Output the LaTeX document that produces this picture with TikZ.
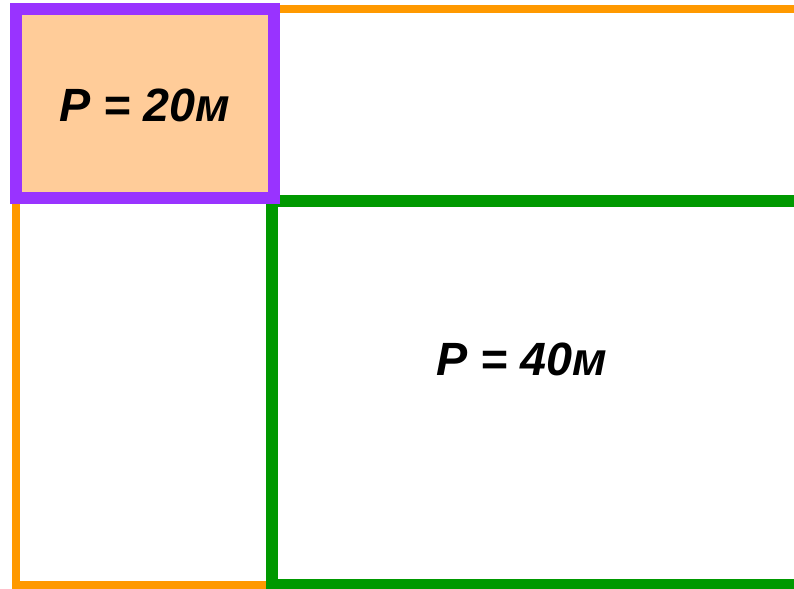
\documentclass[tikz,border=0pt]{standalone}
\usepackage{fontspec}
\setmainfont{Liberation Sans}
\usepackage{tikz}
\usetikzlibrary{positioning}
\definecolor{plotorange}{HTML}{FF9900}
\definecolor{plotpurple}{HTML}{9933FF}
\definecolor{plotpeach}{HTML}{FFCC99}
\definecolor{plotgreen}{HTML}{009900}
\begin{document}
\begin{tikzpicture}[
		x=0.75pt, y=-0.75pt,
		outerplot/.style={draw=plotorange, line width=6pt},
		innerplot/.style={draw=plotgreen, line width=9pt},
		smallplot/.style={draw=plotpurple, fill=plotpeach, line width=9pt},
		perim/.style={font=\bfseries\itshape\fontsize{35}{42}\selectfont, inner sep=0pt}
		]
		\useasboundingbox (0,0) rectangle (794,589);
		
		% Les parcelles
		\draw[outerplot] (16,9) rectangle (820,585);
		\draw[innerplot] (272,201) rectangle (820,585);
		\draw[smallplot] (16,9) rectangle (273.5,198);
		
		% Les perimetres
		\node[perim] (small) at (144.5,105) {P = 20м};
		\node[perim] (large) at (522,359) {P = 40м};
	\end{tikzpicture}
\end{document}
